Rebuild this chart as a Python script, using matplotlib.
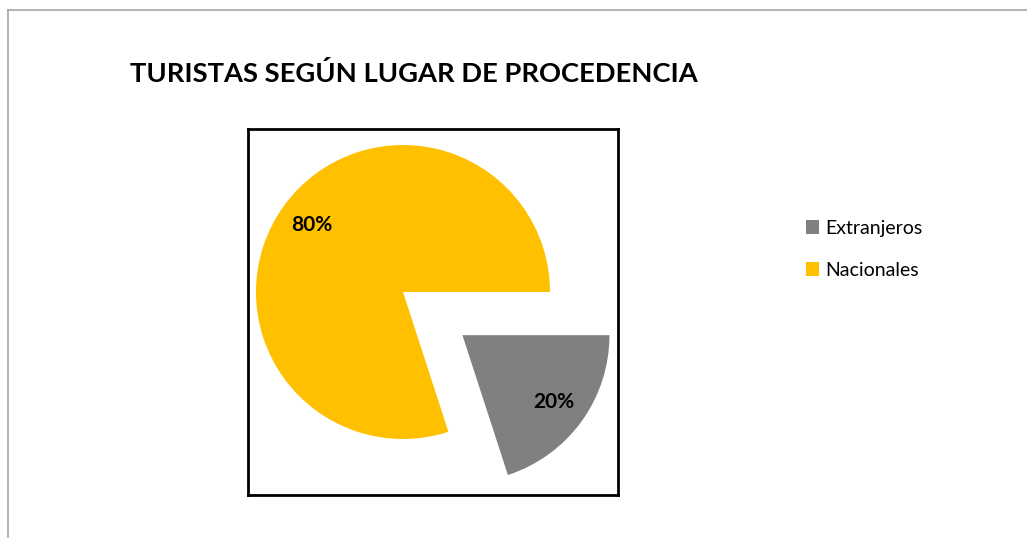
import matplotlib.pyplot as plt
from matplotlib.lines import Line2D

# datos
categorias = ['Extranjeros', 'Nacionales']
porcentajes = [20, 80]
colores = ['#808080', '#FFC000']
titulo = 'TURISTAS SEGÚN LUGAR DE PROCEDENCIA'

plt.rcParams['font.family'] = ['Lato', 'DejaVu Sans']

W, H = 1027, 538
fig = plt.figure(figsize=(W / 100, H / 100), dpi=100)

# marco exterior gris (solo arriba e izquierda visibles)
fig.add_artist(Line2D([8 / W, 1], [1 - 10 / H, 1 - 10 / H], color='#a6a6a6', lw=1.2))
fig.add_artist(Line2D([8 / W, 8 / W], [0, 1 - 10 / H], color='#a6a6a6', lw=1.2))

fig.text(130 / W, 1 - 82 / H, titulo, fontsize=19.7, fontweight='bold', va='baseline', ha='left')

# area del grafico, en unidades de pixel
x0, x1, y0, y1 = 248, 618, 129, 495
R = 147
ax = fig.add_axes([x0 / W, 1 - y1 / H, (x1 - x0) / W, (y1 - y0) / H])
wedges, texts, autotexts = ax.pie(
    porcentajes, colors=colores, startangle=0, counterclock=False,
    explode=[0.5 * R, 0], radius=R, center=(403 - x0, y1 - 292),
    autopct='%d%%', pctdistance=0.77, frame=True,
    textprops=dict(fontsize=15, fontweight='bold', color='black'))
ax.set_aspect('auto')
ax.set_xlim(0, x1 - x0)
ax.set_ylim(0, y1 - y0)
ax.set_xticks([])
ax.set_yticks([])
for s in ax.spines.values():
    s.set_linewidth(2)
    s.set_color('black')

fig.legend(wedges, categorias, loc='upper left', bbox_to_anchor=(796 / W, 1 - 210 / H),
           frameon=False, fontsize=14, handlelength=0.7, handleheight=0.7,
           handletextpad=0.3, labelspacing=1.3, borderpad=0)

fig.savefig('out.png', dpi=100)
